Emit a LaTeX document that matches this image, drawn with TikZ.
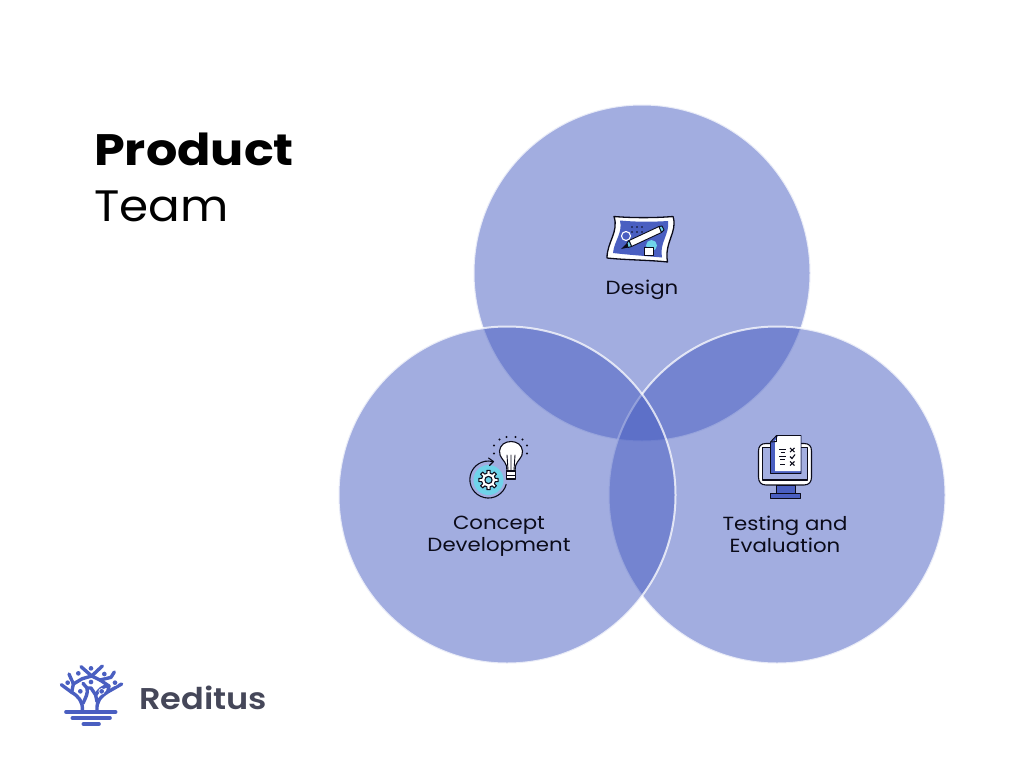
\documentclass[tikz,border=0pt]{standalone}
\usepackage{fontspec}
\setmainfont[FakeStretch=1.12,BoldFont={Poppins SemiBold}]{Poppins}
\newfontfamily\heavyfont[FakeStretch=1.12]{Poppins Bold}
\newfontfamily\teamfont[FakeStretch=1.065]{Poppins}
\definecolor{vennblue}{HTML}{475DC2}
\definecolor{logoblue}{HTML}{4A5FC1}
\definecolor{iconcyan}{HTML}{6FD3EA}
\definecolor{ink}{HTML}{0B0B1A}
\definecolor{slateink}{HTML}{454759}
\definecolor{lav}{HTML}{A4AFE1}
\tikzset{
  venn/.style={circle,minimum size=337pt,inner sep=0pt,fill=vennblue,fill opacity=.5,draw=white,draw opacity=.75,line width=2pt},
  lbl/.style={font=\fontsize{19}{22}\selectfont,text=ink,align=center,inner sep=0pt},
  ic/.style={draw=ink,line width=1.1pt,line join=round,line cap=round},
  br/.style={draw=logoblue,line width=3.4pt,line cap=round,line join=round},
}
\begin{document}
\begin{tikzpicture}[x=1pt,y=-1pt]
\useasboundingbox (0,0) rectangle (1024,768);
\fill[white] (0,0) rectangle (1024,768);
% circles
\node[venn] (design) at (642,273) {};
\node[venn] (testing) at (777,495) {};
\node[venn] (concept) at (507,495) {};
% title
\node[anchor=base west,inner sep=0pt,font=\fontsize{44}{50}\heavyfont,text=black] (t1) at (94,165) {Product};
\node[anchor=base west,inner sep=0pt,font=\fontsize{44}{50}\teamfont,text=black] (t2) at (94,221) {Team};
% labels
\node[lbl] (l1) at (642,289.5) {Design};
\node[lbl] (l2) at (499,536.5) {Concept\\Development};
\node[lbl] (l3) at (785,534) {Testing and\\Evaluation};
% design icon
\draw[ic,line width=1.3pt,fill=white] (614,216.5) .. controls (632,218) and (655,218) .. (673,216.5) .. controls (678,232) and (664,242) .. (667.5,262) .. controls (650,260) and (625,260) .. (607,258) .. controls (607,242) and (619,232) .. (614,216.5) -- cycle;
\fill[logoblue] (620,220.5) .. controls (636,222) and (652,222) .. (668,221) .. controls (670,234) and (659,243) .. (662,257.5) .. controls (646,256) and (630,255) .. (613,253) .. controls (614,241) and (623,233) .. (620,220.5) -- cycle;
\draw[white,line width=1.1pt] (626,236) circle (4.5);
\foreach \p in {(632,227),(637,227),(642,227),(632,232),(637,232),(642,232)} \fill[ink] \p circle (.9);
\fill[iconcyan] (651.5,245.5) circle (5.5);
\draw[ic,fill=white,line width=.9pt] (644.5,247) rectangle (653,255.5);
\draw[ic,fill=white,line width=.9pt] (629,240.5) -- (659,226.5) -- (661.5,232.5) -- (631.5,246.5) -- cycle;
\draw[ic,fill=iconcyan,line width=.9pt] (629,240.5) -- (631.5,246.5) -- (628,247.5) -- (627,243) -- cycle;
\draw[ic,fill=iconcyan,line width=.9pt] (659,226.5) -- (661.5,232.5) -- (664,230) -- (662,226) -- cycle;
\fill[ink] (627,243) -- (628,247.5) -- (621,249) -- cycle;
% gear icon
\fill[iconcyan] (488.5,480) circle (15);
\draw[ic] (492.5,461.5) arc[start angle=-77,end angle=-345,radius=18.5];
\draw[ic] (488.5,458) -- (493.5,461.5) -- (489.5,465.5);
\begin{scope}[shift={(488.5,480)}]
\draw[ic,fill=white] (-13:7) \foreach \a in {0,45,...,315} { -- (\a-13:7) -- (\a-9:9.8) -- (\a+9:9.8) -- (\a+13:7) } -- cycle;
\draw[ic,fill=iconcyan] (0,0) circle (3.6);
\end{scope}
% bulb
\draw[ic,fill=white] (507,471) -- (506.5,466) .. controls (505,460) and (499,458) .. (499.5,451) .. controls (500,445) and (505,441.5) .. (511,441.5) .. controls (517,441.5) and (522,445) .. (522.5,451) .. controls (523,458) and (517,460) .. (515.5,466) -- (515,471) -- cycle;
\draw[ic,line width=.9pt] (508,470) -- (507,455) (511,470) -- (511,455) (514,470) -- (515,455);
\draw[ic,fill=white] (506.5,471) rectangle (515.5,479);
\draw[ic,line width=.9pt] (506.5,475) -- (515.5,475);
\foreach \p in {(494,445.5),(494,453.5),(499.5,439.5),(506.5,437),(515.5,437),(522.5,439.5),(527,445.5),(527,453.5)} \fill[ink] \p circle (1.1);
% monitor icon
\draw[ic,fill=white] (758.5,451) .. controls (758.5,446) and (761,443.5) .. (766,443.5) -- (804,443.5) .. controls (809,443.5) and (811.5,446) .. (811.5,451) -- (811.5,477) .. controls (811.5,482) and (809,485) .. (804,485) -- (766,485) .. controls (761,485) and (758.5,482) .. (758.5,477) -- cycle;
\draw[ic,fill=lav] (762.5,447.5) -- (807.5,447.5) -- (807.5,480) -- (762.5,480) -- cycle;
\fill[logoblue] (776.5,485.6) rectangle (795,493);
\draw[ic,line width=.8pt] (776.5,485.6) rectangle (795,493);
\fill[logoblue] (770,493) rectangle (800.5,498);
\draw[ic,line width=.8pt] (770,493) rectangle (800.5,498);
\draw[ic,fill=logoblue,line width=.9pt] (770.5,442) -- (776.5,435.5) -- (801,435.5) -- (801,473.5) -- (770.5,473.5) -- cycle;
\fill[white] (775,441) -- (778,436) -- (800.5,436) -- (800.5,471) -- (775,471) -- cycle;
\draw[ink,line width=.9pt] (770.5,442) -- (776.5,441.5) -- (776.5,435.5);
\draw[ink,line width=.9pt] (779,449) -- (786,449) (780.5,452.5) -- (785,452.5) (779,456) -- (786,456) (780,459.5) -- (785,459.5) (780,464) -- (785,464);
\foreach \y in {450,463.5} {\draw[ink,line width=1.1pt] (790,\y-2) -- (794.5,\y+2) (794.5,\y-2) -- (790,\y+2);}
\draw[ink,line width=1.1pt] (790,456.5) -- (792,458.5) -- (795,454.5);
% logo mark
\begin{scope}[shift={(55,660)},x=.3333pt,y=-.3333pt]
\draw[br,line width=3.6pt] (33,156) -- (182,156);
\draw[br,line width=3.6pt] (52,174) -- (165,174);
\draw[br,line width=3.6pt] (85,192) -- (132,192);
\draw[br] (82,150) .. controls (84,125) and (70,108) .. (50,97) -- (19,74);
\draw[br] (126,150) .. controls (124,125) and (136,110) .. (158,96) -- (200,72);
\draw[br] (50,97) -- (55,72) -- (42,42);
\draw[br] (55,72) -- (82,56) -- (110,48);
\draw[br] (78,20) -- (110,48) -- (142,18);
\draw[br] (110,48) -- (135,60) -- (168,52) -- (178,36);
\draw[br] (158,96) -- (162,78) -- (135,60);
\draw[br] (84,130) .. controls (92,112) and (100,100) .. (96,84) -- (84,70);
\draw[br] (96,84) -- (108,84) -- (122,105) -- (126,125);
\draw[br] (122,105) .. controls (132,90) and (140,78) .. (162,78);
\foreach \p in {(108,25),(70,40),(148,42),(38,68),(180,68),(108,66),(76,94),(140,94)} {\fill[white] \p circle (9.5); \fill[logoblue] \p circle (7);}
\end{scope}
\node[anchor=base west,inner sep=0pt,font=\fontsize{30}{34}\selectfont\bfseries,text=slateink] (brand) at (139,709) {Reditus};
\end{tikzpicture}
\end{document}
